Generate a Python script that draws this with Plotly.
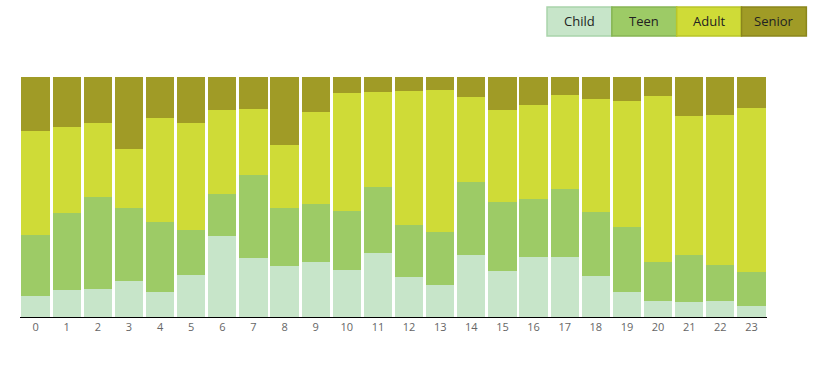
import plotly.graph_objects as go

hours = [str(i) for i in range(24)]
series_names = ["Child", "Teen", "Adult", "Senior"]
child = [8.9, 11.1, 11.7, 15.1, 10.4, 17.4, 33.9, 24.6, 21.3, 22.8, 19.6, 26.7,
         16.5, 13.5, 25.7, 19.2, 24.9, 25.0, 17.0, 10.5, 6.7, 6.25, 6.7, 4.7]
teen = [25.4, 32.1, 38.3, 30.3, 29.3, 19.0, 17.4, 34.4, 24.0, 24.4, 24.7, 27.3,
        21.7, 21.8, 30.55, 28.8, 24.1, 28.2, 26.6, 26.9, 16.3, 19.75, 15.1, 13.9]
adult = [43.2, 36.1, 30.8, 24.5, 43.1, 44.3, 35.0, 27.5, 26.2, 38.1, 48.9, 39.75,
         56.1, 59.2, 35.45, 38.25, 39.3, 39.2, 47.1, 52.5, 69.0, 57.75, 62.5, 68.6]
senior = [22.5, 20.7, 19.2, 30.1, 17.2, 19.3, 13.7, 13.5, 28.5, 14.7, 6.8, 6.25,
          5.7, 5.5, 8.3, 13.75, 11.7, 7.6, 9.3, 10.1, 8.0, 16.25, 15.7, 12.8]
colors = ["#c7e5c9", "#9dcb66", "#cfdb37", "#a09b26"]
borders = ["#a9d4ab", "#86b553", "#b9c52a", "#8a861c"]

fig = go.Figure()
for name, vals, col in zip(series_names, [child, teen, adult, senior], colors):
    fig.add_trace(go.Bar(x=hours, y=vals, name=name, marker=dict(color=col, line=dict(width=0)),
                         showlegend=False))

# custom legend boxes
x0 = 0.7055
w = 0.0868
for i, (name, col, bc) in enumerate(zip(series_names, colors, borders)):
    fig.add_shape(type="rect", xref="paper", yref="paper",
                  x0=x0 + i * w, x1=x0 + (i + 1) * w, y0=1.171, y1=1.292,
                  fillcolor=col, line=dict(color=bc, width=1.5), layer="above")
    fig.add_annotation(x=x0 + (i + 0.5) * w, y=1.2315, xref="paper", yref="paper",
                       text=name, showarrow=False, font=dict(size=13, color="#222"),
                       xanchor="center", yanchor="middle")

fig.update_layout(
    barmode="stack",
    bargap=0.09,
    width=818, height=369,
    margin=dict(l=20, r=51, t=77, b=52),
    plot_bgcolor="white", paper_bgcolor="white",
    font=dict(family="Open Sans", size=11, color="#666"),
    xaxis=dict(type="category", range=[-0.5, 23.5], showline=True, linecolor="black",
               linewidth=1, ticks="", showgrid=False, tickfont=dict(size=11, color="#666")),
    yaxis=dict(range=[0, 100], visible=False, showgrid=False),
)
fig.write_html("out.html", config={"displayModeBar": False},
               post_script="document.body.style.margin='0';document.body.style.overflow='hidden';")
